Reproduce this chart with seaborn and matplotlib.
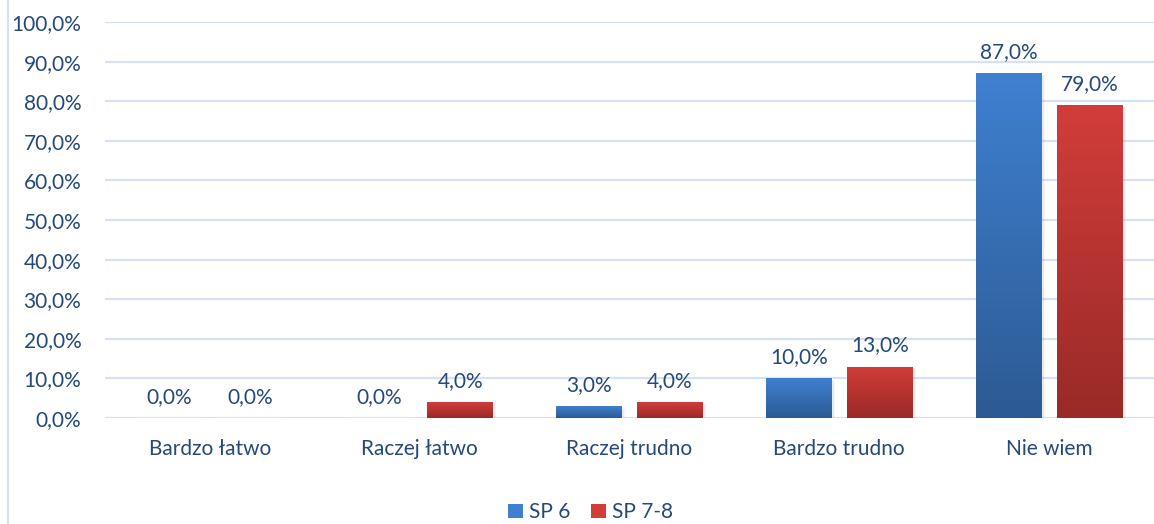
import numpy as np
import pandas as pd
import seaborn as sns
import matplotlib.pyplot as plt
from matplotlib.colors import LinearSegmentedColormap
from matplotlib.lines import Line2D
from matplotlib.patches import Patch

categories = ['Bardzo łatwo', 'Raczej łatwo', 'Raczej trudno', 'Bardzo trudno', 'Nie wiem']
series = ['SP 6', 'SP 7-8']
sp6 = [0.0, 0.0, 3.0, 10.0, 87.0]
sp78 = [0.0, 4.0, 4.0, 13.0, 79.0]
yticks = [0, 10, 20, 30, 40, 50, 60, 70, 80, 90, 100]

TEXT = '#24497A'
GRID = '#D6E1F1'
FS = 15
grad = {
    'SP 6': ('#3F80D0', '#2C5A93'),
    'SP 7-8': ('#D23D3A', '#992A27'),
}

df = pd.DataFrame({
    'kategoria': categories * 2,
    'seria': [series[0]] * len(categories) + [series[1]] * len(categories),
    'wartosc': sp6 + sp78,
})

sns.set_style('white')
plt.rcParams['font.family'] = ['Lato', 'DejaVu Sans']

fig = plt.figure(figsize=(11.54, 5.24), dpi=100)
ax = fig.add_axes([0.091, 0.2023, 0.909, 0.7557])

sns.barplot(data=df, x='kategoria', y='wartosc', hue='seria', order=categories,
            hue_order=series, palette=[grad[s][0] for s in series],
            width=0.77, gap=0.19, legend=False, ax=ax)

ax.set_yticks(yticks)
ax.set_yticklabels([f'{v:.1f}%'.replace('.', ',') for v in yticks])
ax.yaxis.grid(True, color=GRID, lw=1.6)
ax.set_axisbelow(True)
for s in ['top', 'right', 'left', 'bottom']:
    ax.spines[s].set_visible(False)
ax.tick_params(axis='y', length=0, pad=17, labelsize=FS, labelcolor=TEXT)
ax.tick_params(axis='x', length=0, pad=15, labelsize=FS, labelcolor=TEXT)
ax.set_xlabel('')
ax.set_ylabel('')

# gradient fill + labels
for cont, name in zip(ax.containers, series):
    cmap = LinearSegmentedColormap.from_list(name, [grad[name][1], grad[name][0]])
    for bar, val in zip(cont, df[df['seria'] == name]['wartosc']):
        x0, w, h = bar.get_x(), bar.get_width(), bar.get_height()
        if h > 0:
            img = ax.imshow(np.linspace(0, 1, 256).reshape(-1, 1), cmap=cmap, aspect='auto',
                            origin='lower', extent=[x0, x0 + w, 0, h], zorder=2)
            img.set_clip_path(bar)
            # subtle shadow
            ax.bar(x0 + w / 2 + 0.012, h, width=w, bottom=-0.4, color='#000000', alpha=0.08,
                   zorder=1.5)
        bar.set_facecolor('none')
        ax.annotate(f'{val:.1f}%'.replace('.', ','), (x0 + w / 2, h), xytext=(0, 8),
                    textcoords='offset points', ha='center', va='bottom',
                    fontsize=FS, color=TEXT)
ax.set_ylim(0, 100)
ax.set_xlim(-0.5, len(categories) - 0.5)

# outer border line on the left
fig.add_artist(Line2D([0.0065, 0.0065], [0, 1], color=GRID, lw=1.6,
                      transform=fig.transFigure))

handles = [Patch(facecolor=grad[s][0], edgecolor='none') for s in series]
fig.legend(handles, series, loc='center', bbox_to_anchor=(0.512, 0.022), ncol=2,
           frameon=False, fontsize=FS, labelcolor=TEXT, handlelength=0.7,
           handleheight=0.7, handletextpad=0.3, columnspacing=1.0)

fig.savefig('out.png', dpi=100)
